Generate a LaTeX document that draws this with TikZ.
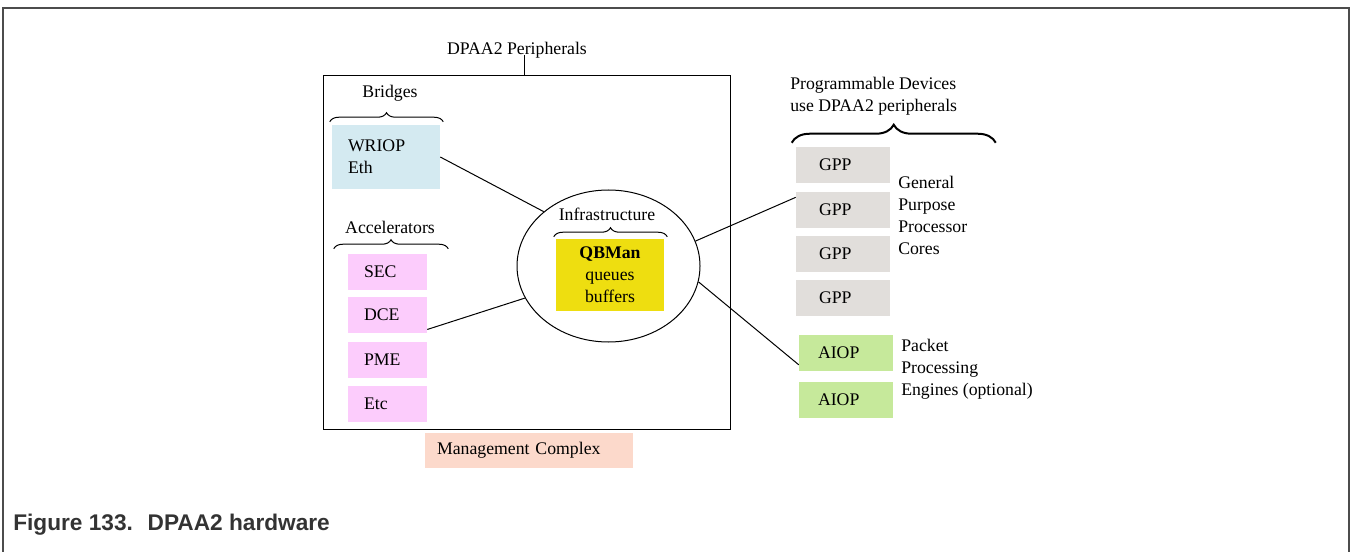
\documentclass[tikz,border=0pt]{standalone}
\usepackage{fontspec}
\setmainfont{Liberation Serif}
\newfontfamily\capfont{Liberation Sans}
\usetikzlibrary{shapes.geometric,decorations.pathreplacing,calc}
\newlength{\unitpx}
\setlength{\unitpx}{0.75pt}
\definecolor{bridgeblue}{HTML}{D4EAF1}
\definecolor{accelpink}{HTML}{FCCCFC}
\definecolor{qbmyellow}{HTML}{EEDE10}
\definecolor{gppgray}{HTML}{E1DEDB}
\definecolor{aiopgreen}{HTML}{C6E99B}
\definecolor{mcpeach}{HTML}{FCD9CB}

\begin{document}
\begin{tikzpicture}[
  x=0.75pt,y=-0.75pt,
  lbl/.style={font=\fontsize{13.3}{16.5}\selectfont,inner sep=0pt,align=left},
  unit/.style={lbl,fill=#1,minimum height=36\unitpx,inner ysep=0pt},
  brc/.style={decorate,decoration={brace,amplitude=#1\unitpx},line width=1\unitpx},
  brc/.default=9,
  link/.style={line width=1\unitpx}
]
\useasboundingbox (0,0) rectangle (1351,552);
\draw[line width=2\unitpx,black!70] (3,560) -- (3,8) -- (1349,8) -- (1349,560);

% peripherals block
\node[lbl] (periphlbl) at (517,50) {DPAA2 Peripherals};
\node[draw,line width=1\unitpx,minimum width=407\unitpx,minimum height=353\unitpx,inner sep=0pt] (periph) at (526.5,252.5) {};
\draw[link] ([xshift=-2\unitpx]periph.north) -- ([xshift=-2\unitpx,yshift=3\unitpx]periph.north |- periphlbl.south);

\node[lbl] (bridgelbl) at (390,93) {Bridges};
\node[unit=bridgeblue,text width=76\unitpx,inner xsep=16\unitpx,minimum height=64\unitpx] (wriop) at (386,157) {WRIOP\\Eth};
\draw[brc] ($(wriop.north west)+(-2,-3)$) -- ($(wriop.north east)+(3,-3)$);

\node[lbl] (accellbl) at (390,227) {Accelerators};
\node[unit=accelpink,text width=47\unitpx,inner xsep=16\unitpx] (sec) at (387.5,272) {SEC};
\node[unit=accelpink,text width=47\unitpx,inner xsep=16\unitpx] (dce) at (387.5,315) {DCE};
\node[unit=accelpink,text width=47\unitpx,inner xsep=16\unitpx] (pme) at (387.5,360) {PME};
\node[unit=accelpink,text width=47\unitpx,inner xsep=16\unitpx] (etc) at (387.5,404) {Etc};
\draw[brc] ($(sec.north west)+(-14,-5)$) -- ($(sec.north east)+(21,-5)$);

\node[draw,ellipse,line width=1\unitpx,minimum width=183\unitpx,minimum height=152\unitpx,inner sep=0pt] (infra) at (608.5,266) {};
\node[lbl] (infralbl) at (607,214) {Infrastructure};
\node[unit=qbmyellow,align=center,minimum width=108\unitpx,minimum height=72\unitpx] (qbman) at (610,275) {\textbf{QBMan}\\queues\\buffers};
\draw[brc] ($(qbman.north west)+(-2,-2)$) -- ($(qbman.north east)+(3,-2)$);

\node[unit=mcpeach,text width=184\unitpx,inner xsep=12\unitpx,minimum height=35\unitpx] (mc) at (529,450.5) {Management Complex};

% programmable devices
\node[lbl,anchor=west] (proglbl) at (790,96.5) {Programmable Devices\\use DPAA2 peripherals};
\node[unit=gppgray,text width=48\unitpx,inner xsep=23\unitpx] (gpp1) at (843,165) {GPP};
\node[unit=gppgray,text width=48\unitpx,inner xsep=23\unitpx] (gpp2) at (843,210) {GPP};
\node[unit=gppgray,text width=48\unitpx,inner xsep=23\unitpx] (gpp3) at (843,254) {GPP};
\node[unit=gppgray,text width=48\unitpx,inner xsep=23\unitpx] (gpp4) at (843,298) {GPP};
\draw[brc=18,line width=2\unitpx] ($(gpp1.north west)+(-4,-4)$) -- ($(gpp1.north west)+(200,-4)$);
\node[lbl,anchor=west] (gpplbl) at (898,215) {General\\Purpose\\Processor\\Cores};

\node[unit=aiopgreen,text width=56\unitpx,inner xsep=19\unitpx] (aiop1) at (846,353) {AIOP};
\node[unit=aiopgreen,text width=56\unitpx,inner xsep=19\unitpx] (aiop2) at (846,399.5) {AIOP};
\node[lbl,anchor=west] (aioplbl) at (901,369.5) {Packet\\Processing\\Engines (optional)};

\draw[link] (wriop.east) -- (infra.140);
\draw[link] (dce.-20) -- (infra.201);
\draw[link] (infra.16) -- (gpp2.165);
\draw[link] (infra.-10) -- (aiop1.194);

\node[anchor=west,inner sep=0pt,font=\capfont\bfseries\fontsize{17}{19}\selectfont,text=black!80] (caption) at (13,525) {Figure 133.~ DPAA2 hardware};
\end{tikzpicture}
\end{document}
